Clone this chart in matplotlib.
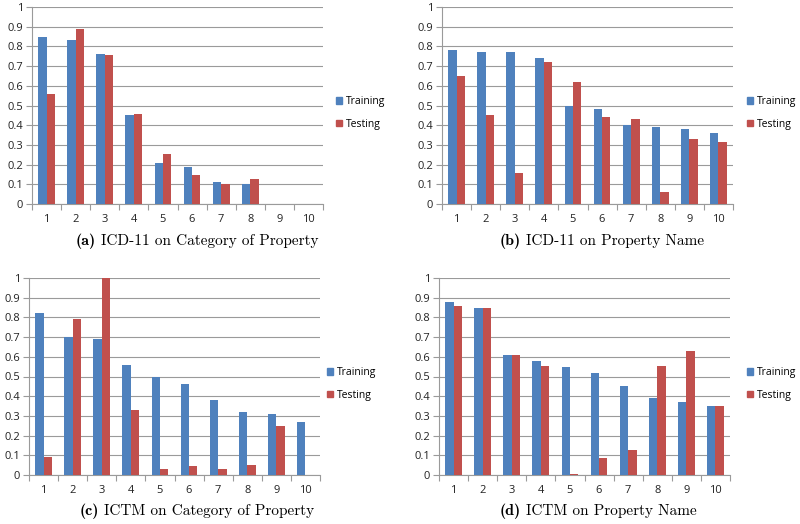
import numpy as np
import matplotlib.pyplot as plt
from matplotlib.patches import Patch

cats = [str(i) for i in range(1, 11)]

train_a = [0.85, 0.83, 0.76, 0.45, 0.21, 0.19, 0.11, 0.10, 0, 0]
test_a = [0.56, 0.89, 0.755, 0.455, 0.255, 0.145, 0.10, 0.125, 0, 0]

train_b = [0.78, 0.77, 0.77, 0.74, 0.50, 0.48, 0.40, 0.39, 0.38, 0.36]
test_b = [0.65, 0.45, 0.155, 0.72, 0.62, 0.44, 0.43, 0.06, 0.33, 0.315]

train_c = [0.82, 0.70, 0.69, 0.56, 0.50, 0.46, 0.38, 0.32, 0.31, 0.27]
test_c = [0.09, 0.79, 1.0, 0.33, 0.03, 0.045, 0.03, 0.05, 0.25, 0]

train_d = [0.88, 0.85, 0.61, 0.58, 0.55, 0.52, 0.45, 0.39, 0.37, 0.35]
test_d = [0.86, 0.85, 0.61, 0.555, 0.005, 0.085, 0.125, 0.555, 0.63, 0.35]

captions = [("(a)", "ICD-11 on Category of Property"),
            ("(b)", "ICD-11 on Property Name"),
            ("(c)", "ICTM on Category of Property"),
            ("(d)", "ICTM on Property Name")]

BLUE = "#4F81BD"
RED = "#C0504D"
GRID = "#9a9a9a"
W, H = 800, 524

plt.rcParams['font.family'] = ['Open Sans', 'DejaVu Sans']

fig = plt.figure(figsize=(8, 5.24), dpi=100)

# pixel boxes: left, right, top, bottom ; legend anchor ; caption center/y
panels = [
    (train_a, test_a, (32, 323, 7, 204), (336, 113), (197, 241)),
    (train_b, test_b, (442, 733, 7, 204), (747, 113), (602, 241)),
    (train_c, test_c, (29, 320, 278, 475), (327, 384), (197, 511)),
    (train_d, test_d, (439, 730, 278, 475), (747, 384), (598, 511)),
]

x = np.arange(1, 11)
bw = 0.29
cap_texts = []
for (tr, te, box, leg, cap), (tag, text) in zip(panels, captions):
    l, r, t, b = box
    ax = fig.add_axes([l / W, 1 - b / H, (r - l) / W, (b - t) / H])
    ax.bar(x - bw / 2, tr, bw, color=BLUE, zorder=3)
    ax.bar(x + bw / 2, te, bw, color=RED, zorder=3)
    ax.set_xlim(0.5, 10.5)
    ax.set_ylim(0, 1)
    ax.set_yticks(np.arange(0, 1.01, 0.1))
    ax.set_yticklabels(["0", "0.1", "0.2", "0.3", "0.4", "0.5", "0.6", "0.7", "0.8", "0.9", "1"])
    ax.set_xticks(x)
    ax.set_xticklabels(cats)
    ax.set_xticks(np.arange(0.5, 10.6, 1), minor=True)
    ax.tick_params(axis='x', which='major', length=0, pad=7, labelsize=8, colors='#222222')
    ax.tick_params(axis='x', which='minor', length=4, color=GRID, width=0.8)
    ax.tick_params(axis='y', length=4, color=GRID, width=0.8, labelsize=8, labelcolor='#222222', pad=2.5)
    ax.yaxis.grid(True, color=GRID, linewidth=0.8, zorder=0)
    for s in ['top', 'right']:
        ax.spines[s].set_visible(False)
    ax.spines['left'].set_color(GRID)
    ax.spines['bottom'].set_color(GRID)
    ax.spines['left'].set_linewidth(0.8)
    ax.spines['bottom'].set_linewidth(0.8)

    handles = [Patch(color=BLUE, label='Training'), Patch(color=RED, label='Testing')]
    fig.legend(handles=handles, loc='center left',
               bbox_to_anchor=(leg[0] / W, 1 - leg[1] / H),
               frameon=False, fontsize=7.5, handlelength=0.6, handleheight=0.6,
               handletextpad=0.4, labelspacing=1.1, borderpad=0, borderaxespad=0)

    t1 = fig.text(0, 1 - cap[1] / H, tag, ha='left', va='center',
                  fontsize=11.5, family=['cmb10'])
    t2 = fig.text(0, 1 - cap[1] / H, text, ha='left', va='center',
                  fontsize=11, family=['cmr10'])
    cap_texts.append((t1, t2, cap[0]))

# center each caption (bold tag + plain text) on its panel
renderer = fig.canvas.get_renderer()
gap = 5
for t1, t2, cx in cap_texts:
    w1 = t1.get_window_extent(renderer).width
    w2 = t2.get_window_extent(renderer).width
    x0 = cx - (w1 + gap + w2) / 2
    t1.set_x(x0 / W)
    t2.set_x((x0 + w1 + gap) / W)

fig.savefig("out.png", dpi=100)
